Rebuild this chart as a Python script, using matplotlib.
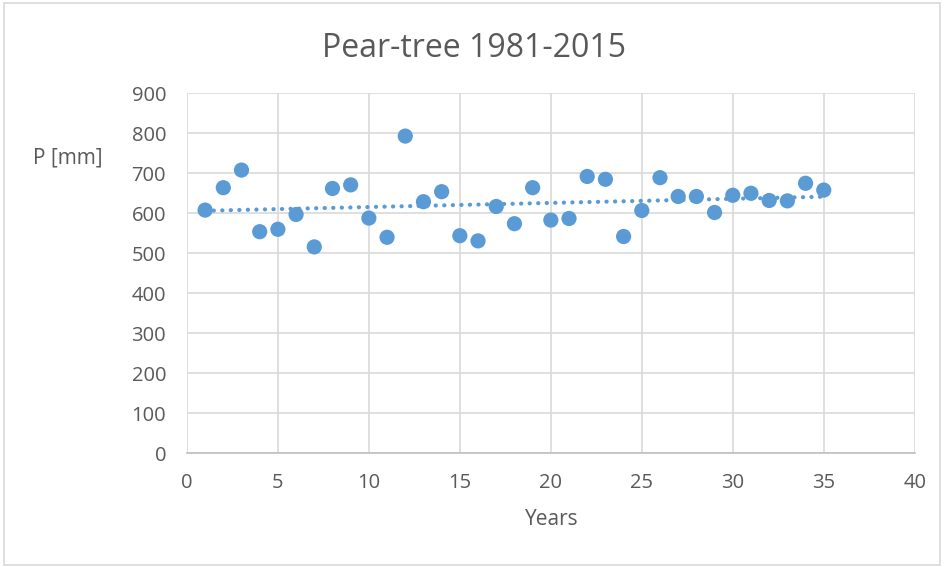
import matplotlib as mpl
import matplotlib.pyplot as plt
import numpy as np
from matplotlib.patches import Rectangle

mpl.rcParams['font.family'] = ['Open Sans', 'DejaVu Sans']

# data
years = np.arange(1, 36)
precip_mm = [608, 664, 708, 554, 560, 597, 516, 662, 671, 588,
             540, 793, 629, 654, 544, 531, 617, 574, 664, 583,
             587, 692, 685, 542, 607, 689, 642, 642, 602, 645,
             650, 632, 631, 675, 658]
x_ticks = [0, 5, 10, 15, 20, 25, 30, 35, 40]
y_ticks = [0, 100, 200, 300, 400, 500, 600, 700, 800, 900]

BLUE = '#5B9BD5'
TEXT = '#595959'
GRID = '#D9D9D9'

fig = plt.figure(figsize=(9.44, 5.67), dpi=100)
ax = fig.add_axes([0.198, 0.2005, 0.771, 0.635])

# linear trendline like excel
k, b = np.polyfit(years, precip_mm, 1)
ax.plot(years, k * years + b, linestyle=(0, (0.05, 2.0)), dash_capstyle='round',
        color=BLUE, linewidth=3.0, zorder=2)
ax.scatter(years, precip_mm, s=120, color=BLUE, edgecolors='none', zorder=3)

ax.set_xlim(0, 40)
ax.set_ylim(0, 900)
ax.set_xticks(x_ticks)
ax.set_yticks(y_ticks)
ax.grid(True, color=GRID, linewidth=1.2, zorder=0)
ax.set_axisbelow(True)
for s in ['top', 'right', 'left']:
    ax.spines[s].set_visible(False)
ax.spines['bottom'].set_color('#BFBFBF')
ax.spines['bottom'].set_linewidth(1.2)
ax.tick_params(length=0, labelsize=14.5, labelcolor=TEXT)
ax.tick_params(axis='x', pad=14)
ax.tick_params(axis='y', pad=15)

fig.text(0.502, 0.915, 'Pear-tree 1981-2015', ha='center', va='center',
         fontsize=23, color=TEXT)
fig.text(0.035, 0.722, 'P [mm]', ha='left', va='center', fontsize=15, color=TEXT)
fig.text(0.584, 0.083, 'Years', ha='center', va='center', fontsize=15, color=TEXT)

fig.patches.append(Rectangle((0.004, 0.004), 0.992, 0.99, transform=fig.transFigure,
                             fill=False, edgecolor=GRID, linewidth=1.2))

plt.savefig('out.png', dpi=100)
plt.close()
